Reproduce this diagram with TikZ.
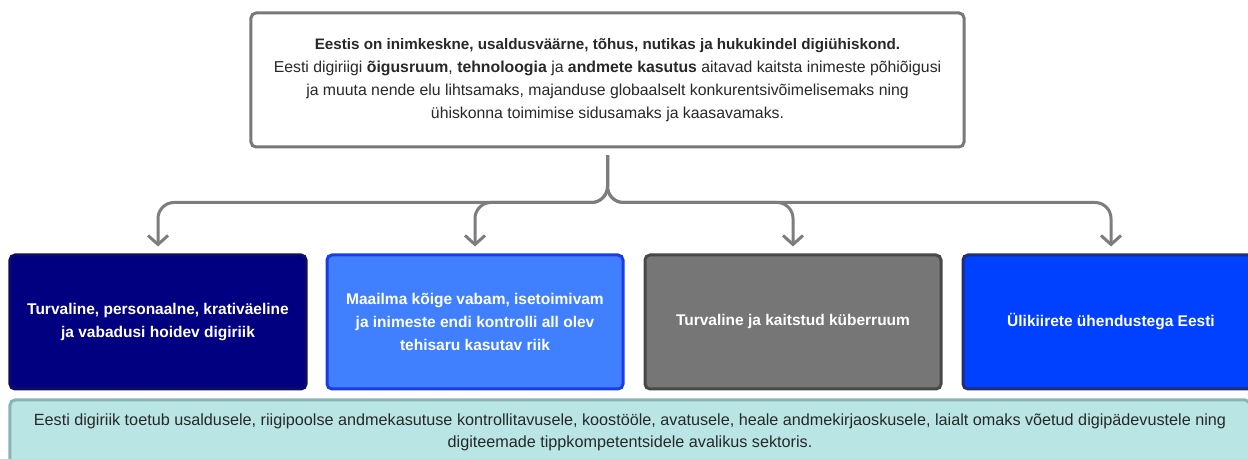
\documentclass[tikz,border=0pt]{standalone}
\usepackage{fontspec}
\setmainfont{Liberation Sans}
\usetikzlibrary{arrows.meta}
\definecolor{linegray}{RGB}{125,125,125}
\definecolor{framegray}{RGB}{120,120,120}
\definecolor{textgray}{RGB}{40,40,40}
\definecolor{navyfill}{RGB}{0,0,128}
\definecolor{navyline}{RGB}{12,12,100}
\definecolor{skyfill}{RGB}{64,128,255}
\definecolor{skyline}{RGB}{25,60,230}
\definecolor{greyfill}{RGB}{118,118,118}
\definecolor{greyline}{RGB}{72,72,72}
\definecolor{bluefill}{RGB}{0,64,255}
\definecolor{blueline}{RGB}{35,45,120}
\definecolor{mintfill}{RGB}{186,229,229}
\definecolor{mintline}{RGB}{138,180,180}
\tikzset{
  txt/.style={font=\fontsize{15.8bp}{23bp}\selectfont, align=center},
  visionbox/.style={txt, draw=framegray, fill=white, line width=3bp, rounded corners=5bp,
    minimum width=713bp, minimum height=134bp, inner sep=0pt, text=textgray},
  goalbox/.style={txt, font=\fontsize{15.5bp}{23bp}\selectfont\bfseries, line width=3bp, rounded corners=5bp,
    minimum width=296bp, minimum height=134bp, inner sep=0pt, text=white},
  basebox/.style={txt, font=\fontsize{16.2bp}{22bp}\selectfont, draw=mintline, fill=mintfill, line width=3bp,
    rounded corners=5bp, minimum width=1240bp, minimum height=64bp, inner sep=0pt, text=textgray},
  conn/.style={draw=linegray, line width=3bp, rounded corners=16bp,
    -{Straight Barb[length=9bp,width=20bp]}, shorten <=7bp, shorten >=7bp},
}
\begin{document}
\begin{tikzpicture}[x=1bp,y=1bp]
\path[use as bounding box, clip] (0,0) rectangle (1248,459);
  % Node: vision
\node[visionbox] (vision) at (607.5,379) {{\fontsize{15.2bp}{23bp}\selectfont\bfseries Eestis on inimkeskne, usaldusväärne, tõhus, nutikas ja hukukindel digiühiskond.}\\
  Eesti digiriigi \textbf{õigusruum}, \textbf{tehnoloogia} ja \textbf{andmete kasutus} aitavad kaitsta inimeste põhiõigusi\\
  ja muuta nende elu lihtsamaks, majanduse globaalselt konkurentsivõimelisemaks ning\\
  ühiskonna toimimise sidusamaks ja kaasavamaks.};
  % Node: goals
\node[goalbox, draw=navyline, fill=navyfill] (safe) at (158,137) {Turvaline, personaalne, krativäeline\\ja vabadusi hoidev digiriik};
\node[goalbox, draw=skyline, fill=skyfill] (free) at (475,137) {Maailma kõige vabam, isetoimivam\\ja inimeste endi kontrolli all olev\\tehisaru kasutav riik};
\node[goalbox, draw=greyline, fill=greyfill] (cyber) at (793,137) {Turvaline ja kaitstud küberruum};
\node[goalbox, draw=blueline, fill=bluefill] (fast) at (1111,137) {Ülikiirete ühendustega Eesti};
  % Node: base
\node[basebox] (base) at (630,27) {Eesti digiriik toetub usaldusele, riigipoolse andmekasutuse kontrollitavusele, koostööle, avatusele, heale andmekirjaoskusele, laialt omaks võetud digipädevustele ning\\
  digiteemade tippkompetentsidele avalikus sektoris.};
  % Edge: vision -> goals
\draw[conn] (vision.south) -- ++(0,-54) -| (safe.north);
\draw[conn] (vision.south) -- ++(0,-54) -| (free.north);
\draw[conn] (vision.south) -- ++(0,-54) -| (cyber.north);
\draw[conn] (vision.south) -- ++(0,-54) -| (fast.north);
\end{tikzpicture}
\end{document}
